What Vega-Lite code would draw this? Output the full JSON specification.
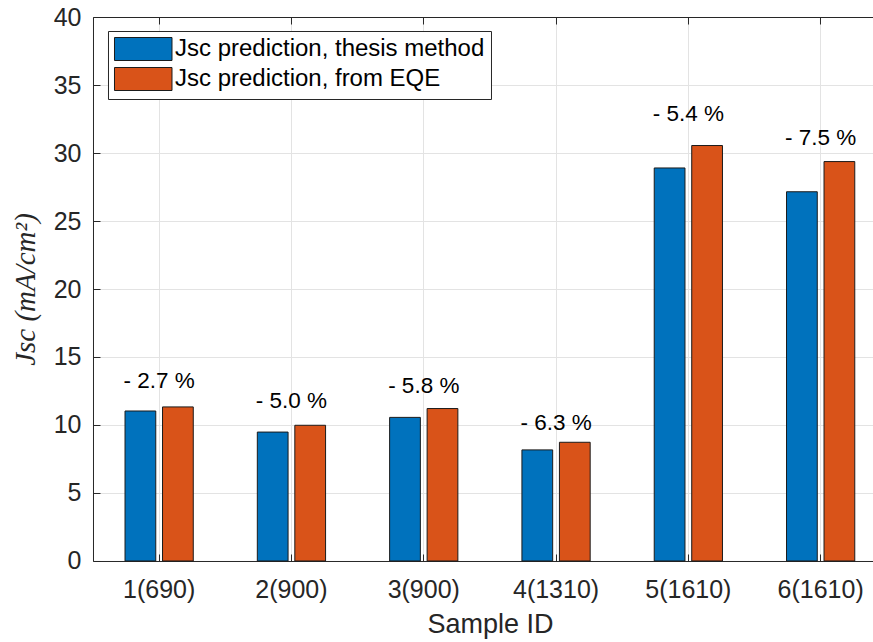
{
  "$schema": "https://vega.github.io/schema/vega-lite/v6.json",
  "width": 793.8,
  "height": 544,
  "autosize": "none",
  "padding": {"left": 93, "top": 17, "right": 0, "bottom": 81},
  "background": "white",
  "config": {
    "view": {"stroke": null},
    "font": "Liberation Sans",
    "axis": {
      "domainColor": "#262626",
      "tickColor": "#262626",
      "labelColor": "#262626",
      "titleColor": "#262626",
      "titleFontWeight": "normal",
      "gridColor": "#e3e3e3",
      "gridOpacity": 1
    }
  },
  "datasets": {
    "bars": [
      {"sample": "1(690)", "series": "Jsc prediction, thesis method", "value": 11.03},
      {"sample": "1(690)", "series": "Jsc prediction, from EQE", "value": 11.33},
      {"sample": "2(900)", "series": "Jsc prediction, thesis method", "value": 9.48},
      {"sample": "2(900)", "series": "Jsc prediction, from EQE", "value": 9.98},
      {"sample": "3(900)", "series": "Jsc prediction, thesis method", "value": 10.56},
      {"sample": "3(900)", "series": "Jsc prediction, from EQE", "value": 11.21},
      {"sample": "4(1310)", "series": "Jsc prediction, thesis method", "value": 8.17},
      {"sample": "4(1310)", "series": "Jsc prediction, from EQE", "value": 8.73},
      {"sample": "5(1610)", "series": "Jsc prediction, thesis method", "value": 28.9},
      {"sample": "5(1610)", "series": "Jsc prediction, from EQE", "value": 30.55},
      {"sample": "6(1610)", "series": "Jsc prediction, thesis method", "value": 27.15},
      {"sample": "6(1610)", "series": "Jsc prediction, from EQE", "value": 29.37}
    ],
    "labels": [
      {"sample": "1(690)", "label": "- 2.7 %", "ypos": 13.27},
      {"sample": "2(900)", "label": "- 5.0 %", "ypos": 11.73},
      {"sample": "3(900)", "label": "- 5.8 %", "ypos": 12.9},
      {"sample": "4(1310)", "label": "- 6.3 %", "ypos": 10.15},
      {"sample": "5(1610)", "label": "- 5.4 %", "ypos": 32.9},
      {"sample": "6(1610)", "label": "- 7.5 %", "ypos": 31.08}
    ]
  },
  "layer": [
    {
      "data": {"name": "bars"},
      "mark": {"type": "bar", "stroke": "#1a1a1a", "strokeWidth": 1},
      "encoding": {
        "x": {
          "field": "sample", "type": "nominal", "sort": null,
          "scale": {"paddingInner": 0, "paddingOuter": 0},
          "axis": {
            "orient": "bottom", "title": "Sample ID", "titleFontSize": 27, "titlePadding": 9,
            "labelFontSize": 25, "labelAngle": 0, "labelPadding": 24,
            "tickSize": -7, "grid": true, "bandPosition": 0.5, "labelLimit": 0
          }
        },
        "xOffset": {
          "field": "series", "type": "nominal", "sort": ["Jsc prediction, thesis method", "Jsc prediction, from EQE"],
          "scale": {"paddingInner": 0.18, "paddingOuter": 0.854}
        },
        "y": {
          "field": "value", "type": "quantitative",
          "scale": {"domain": [0, 40], "nice": false},
          "axis": {
            "values": [0, 5, 10, 15, 20, 25, 30, 35, 40],
            "title": "Jsc (mA/cm²)", "titleFont": "Liberation Serif", "titleFontStyle": "italic",
            "titleFontSize": 29, "titlePadding": 13,
            "labelFontSize": 25, "labelPadding": 19, "tickSize": -7, "grid": true
          }
        },
        "color": {
          "field": "series", "type": "nominal",
          "scale": {"domain": ["Jsc prediction, thesis method", "Jsc prediction, from EQE"], "range": ["#0072BD", "#D95319"]},
          "legend": {
            "orient": "none", "legendX": 15, "legendY": 14, "title": null,
            "fillColor": "white", "strokeColor": "#262626", "padding": 6,
            "symbolType": "M-1,-1H4V1H-1Z", "symbolSize": 529,
            "symbolStrokeColor": "#1a1a1a", "symbolStrokeWidth": 1, "symbolOpacity": 1,
            "labelFontSize": 24, "labelColor": "black", "labelOffset": 37, "rowPadding": 2, "labelLimit": 0
          }
        }
      }
    },
    {
      "data": {"name": "labels"},
      "mark": {"type": "text", "fontSize": 22.5, "color": "black", "baseline": "middle", "align": "center"},
      "encoding": {
        "x": {
          "field": "sample", "type": "nominal", "sort": null,
          "axis": {"orient": "top", "labels": false, "title": null, "tickSize": -7, "grid": false, "bandPosition": 0.5, "domain": true}
        },
        "y": {"field": "ypos", "type": "quantitative"},
        "text": {"field": "label"}
      }
    }
  ],
  "resolve": {"axis": {"x": "independent"}}
}
